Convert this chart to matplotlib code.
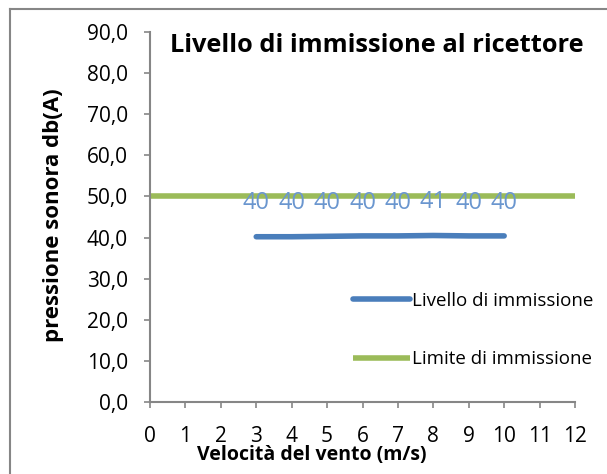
import matplotlib
matplotlib.use("Agg")
import matplotlib.pyplot as plt
from matplotlib.lines import Line2D
from matplotlib.ticker import FuncFormatter

plt.rcParams['font.family'] = ['Open Sans', 'DejaVu Sans']

# Data
wind_speed = [3, 4, 5, 6, 7, 8, 9, 10]
livello = [40.2, 40.2, 40.3, 40.4, 40.4, 40.5, 40.4, 40.4]
data_labels = ['40', '40', '40', '40', '40', '41', '40', '40']
limite_x = [0, 12]
limite_y = [50, 50]
x_ticks = list(range(0, 13))
y_ticks = list(range(0, 91, 10))

W, H = 607, 474
fig = plt.figure(figsize=(W / 100, H / 100), dpi=100)
ax = fig.add_axes([150 / W, 1 - 402 / H, (575 - 150) / W, (402 - 32) / H])

blue = '#4a7ebb'
green = '#9bbb59'
gray = '#868686'

ax.plot(wind_speed, livello, color=blue, lw=4, solid_capstyle='round', label='Livello di immissione')
ax.plot(limite_x, limite_y, color=green, lw=4, solid_capstyle='butt', label='Limite di immissione')

for xv, yv, lab in zip(wind_speed, livello, data_labels):
    ax.annotate(lab, (xv, yv), xytext=(0, 24), textcoords='offset points',
                ha='center', va='center', fontsize=17, color='#6a96cf')

ax.set_xlim(0, 12)
ax.set_ylim(0, 90)
ax.set_xticks(x_ticks)
ax.set_yticks(y_ticks)
ax.yaxis.set_major_formatter(FuncFormatter(lambda v, p: f"{v:.1f}".replace('.', ',')))
for s in ['top', 'right']:
    ax.spines[s].set_visible(False)
for s in ['left', 'bottom']:
    ax.spines[s].set_color(gray)
    ax.spines[s].set_linewidth(1.5)
ax.tick_params(axis='both', colors=gray, labelcolor='#000000', length=4, width=1.2, labelsize=15)
ax.tick_params(axis='x', pad=13)
ax.tick_params(axis='y', pad=12)

fig.text(377 / W, 1 - 45 / H, 'Livello di immissione al ricettore', ha='center', va='center',
         fontsize=18.3, fontweight='bold')
fig.text(312 / W, 1 - 455 / H, 'Velocità del vento (m/s)', ha='center', va='center',
         fontsize=14, fontweight='bold')
fig.text(53 / W, 1 - 215 / H, 'pressione sonora db(A)', ha='center', va='center', rotation=90,
         fontsize=16, fontweight='bold')

leg = ax.legend(loc='center left', bbox_to_anchor=(353 / W, 1 - 330 / H), bbox_transform=fig.transFigure,
                frameon=False, fontsize=13.5, handlelength=3.04, handletextpad=0.1, labelspacing=2.15,
                borderpad=0, borderaxespad=0)

# figure frame
fig.add_artist(Line2D([9.5 / W, 9.5 / W], [0, 1 - 8.5 / H], transform=fig.transFigure, color=gray, lw=1.5))
fig.add_artist(Line2D([9.5 / W, 1], [1 - 8.5 / H, 1 - 8.5 / H], transform=fig.transFigure, color=gray, lw=1.5))

fig.savefig('out.png', dpi=100)
